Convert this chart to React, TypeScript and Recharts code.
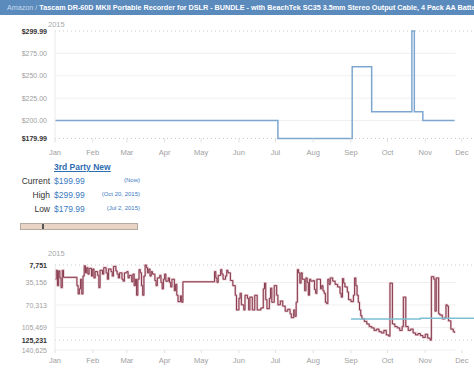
import { LineChart, Line, XAxis, YAxis, ReferenceLine } from 'recharts';

const FONT = '"Liberation Sans", Arial, sans-serif';

const months = ['Jan', 'Feb', 'Mar', 'Apr', 'May', 'Jun', 'Jul', 'Aug', 'Sep', 'Oct', 'Nov', 'Dec'];
const monthStarts = [0, 31, 59, 90, 120, 151, 181, 212, 243, 273, 304, 334];

// 3rd party new price (day of year -> price), step after
const priceDays = [0, 183, 244, 260, 293, 295, 302, 328];
const priceValues = [199.99, 179.99, 259.99, 209.99, 299.99, 209.99, 199.99, 199.99];
const priceTicks = [179.99, 200, 225, 250, 275, 299.99];
const priceGrid = [200, 225, 250, 275];
const priceExtremes = [179.99, 299.99];

// sales rank (day of year -> rank)
const rankDays = [
  0, 1, 2, 3, 4, 5, 6, 7, 18, 19,
  20, 21, 22, 23, 24, 25, 26, 27, 28, 30,
  31, 32, 33, 35, 36, 37, 39, 40, 42, 43,
  44, 46, 47, 48, 50, 51, 52, 53, 55, 56,
  57, 59, 60, 61, 63, 64, 65, 66, 67, 68,
  69, 70, 71, 72, 73, 74, 75, 76, 77, 78,
  79, 80, 82, 83, 84, 86, 87, 88, 89, 90,
  91, 93, 94, 95, 96, 98, 99, 100, 101, 103,
  104, 105, 131, 132, 133, 134, 136, 137, 138, 140,
  141, 142, 144, 146, 148, 149, 151, 152, 153, 155,
  156, 158, 159, 160, 162, 164, 166, 169, 171, 172,
  173, 174, 176, 177, 178, 180, 182, 183, 185, 187,
  189, 191, 193, 194, 196, 197, 198, 199, 200, 201,
  202, 203, 205, 206, 207, 208, 209, 210, 212, 213,
  214, 215, 218, 219, 220, 221, 222, 223, 224, 225,
  226, 228, 230, 232, 234, 235, 236, 237, 238, 240,
  241, 243, 245, 246, 247, 248, 249, 250, 251, 252,
  254, 256, 258, 260, 262, 264, 266, 268, 270, 272,
  274, 275, 277, 279, 281, 283, 285, 286, 288, 290,
  292, 294, 296, 298, 300, 302, 304, 306, 308, 309,
  311, 312, 313, 315, 316, 318, 320, 321, 322, 323,
  325, 327, 328,
];
const rankValues = [
  30000, 16000, 40000, 17000, 28000, 43000, 16000, 27000, 40000, 53000,
  45000, 30000, 53000, 25000, 9000, 20000, 12000, 22000, 13000, 25000,
  14000, 28000, 18000, 24000, 43000, 16000, 22000, 12000, 20000, 30000,
  14000, 18000, 25000, 10000, 17000, 22000, 28000, 20000, 30000, 33000,
  20000, 18000, 28000, 24000, 34000, 22000, 40000, 30000, 55000, 30000,
  15000, 20000, 40000, 55000, 25000, 7751, 12000, 20000, 14000, 25000,
  18000, 22000, 32000, 40000, 28000, 24000, 35000, 45000, 30000, 22000,
  33000, 28000, 35000, 42000, 30000, 48000, 38000, 55000, 65000, 56000,
  66000, 34000, 18000, 28000, 35000, 24000, 15000, 22000, 30000, 25000,
  16000, 20000, 32000, 40000, 55000, 78000, 60000, 52000, 70000, 78000,
  55000, 60000, 78000, 58000, 78000, 55000, 78000, 75000, 45000, 36000,
  62000, 76000, 60000, 44000, 66000, 40000, 55000, 70000, 64000, 72000,
  80000, 77000, 84000, 90000, 78000, 88000, 66000, 15000, 20000, 36000,
  20000, 30000, 48000, 28000, 35000, 55000, 30000, 33000, 32000, 46000,
  52000, 30000, 45000, 40000, 48000, 52000, 66000, 68000, 30000, 38000,
  28000, 33000, 38000, 42000, 52000, 58000, 29000, 36000, 42000, 50000,
  62000, 65000, 55000, 28000, 40000, 55000, 66000, 78000, 87000, 92000,
  96000, 100000, 104000, 106000, 110000, 108000, 112000, 114000, 110000, 117000,
  119000, 36000, 100000, 104000, 106000, 110000, 104000, 58000, 104000, 110000,
  108000, 114000, 117000, 115000, 118000, 121000, 116000, 122000, 125231, 26000,
  30000, 80000, 28000, 84000, 86000, 92000, 90000, 70000, 72000, 95000,
  108000, 112000, 114000,
];
const rankTicks = [7751, 35156, 70313, 105469, 125231, 140625];
const rankGrid = [35156, 70313, 105469, 140625];
const rankExtremes = [7751, 125231];

// teal overlay in the rank panel
const overlayDays = [243, 300, 344];
const overlayValues = [92200, 90800, 90800];

const summaryLabels = ['Current', 'High', 'Low'];
const summaryPrices = [199.99, 299.99, 179.99];
const summaryDates = ['(Now)', '(Oct 20, 2015)', '(Jul 2, 2015)'];

const priceData = priceDays.map((day, i) => ({ day, price: priceValues[i] }));
const rankData = rankDays.map((day, i) => ({ day, rank: rankValues[i] }));
const overlayData = overlayDays.map((day, i) => ({ day, rank: overlayValues[i] }));

const makeMonthTick = (dy: number) => (props: any) => {
  const { x, y, payload } = props;
  return (
    <text x={x} y={y} dy={dy} textAnchor="middle" fontSize={7.5} fill="#a0a0a0" fontFamily={FONT}>
      {months[monthStarts.indexOf(payload.value)]}
    </text>
  );
};

const makeYTick = (extremes: number[], fmt: (v: number) => string) => (props: any) => {
  const { x, y, payload } = props;
  const bold = extremes.includes(payload.value);
  return (
    <text
      x={x}
      y={y}
      dy={2.5}
      textAnchor="end"
      fontSize={7}
      fontWeight={bold ? 700 : 400}
      fill={bold ? '#333' : '#a0a0a0'}
      fontFamily={FONT}
    >
      {fmt(payload.value)}
    </text>
  );
};

const PriceTick = makeYTick(priceExtremes, (v) => `$${v.toFixed(2)}`);
const RankTick = makeYTick(rankExtremes, (v) => v.toLocaleString('en-US'));

const yearLabel = (top: number) => (
  <div style={{ position: 'absolute', left: 48, top, fontSize: 7.5, color: '#a8a8a8', fontFamily: FONT }}>2015</div>
);

export default function App() {
  return (
    <div style={{ position: 'absolute', left: 0, top: 0, width: 474, height: 373, background: '#fff', overflow: 'hidden', fontFamily: FONT }}>
      <div
        style={{
          position: 'absolute', left: 0, top: 0, width: 474, height: 15, background: '#5b8abd',
          color: '#fff', fontSize: 7.2, lineHeight: '15px', paddingLeft: 7, whiteSpace: 'nowrap', overflow: 'hidden', boxSizing: 'border-box',
        }}
      >
        <span style={{ color: '#c9dcee' }}>Amazon / </span>
        <b>Tascam DR-60D MKII Portable Recorder for DSLR - BUNDLE - with BeachTek SC35 3.5mm Stereo Output Cable, 4 Pack AA Batteries</b>
      </div>

      {yearLabel(20)}
      <div style={{ position: 'absolute', left: 0, top: 0 }}>
        <LineChart width={474} height={160} data={priceData} margin={{ top: 31, right: 0, bottom: 1.5, left: 0 }}>
          <XAxis
            dataKey="day" type="number" domain={[0, 344]} ticks={monthStarts} tick={makeMonthTick(10)}
            axisLine={false} tickLine={{ stroke: '#e0e0e0' }} tickSize={4} height={20} interval={0}
          />
          <YAxis
            type="number" domain={[179.99, 299.99]} ticks={priceTicks} tick={PriceTick} interval={0}
            width={55} tickSize={0} tickMargin={8} tickLine={false} axisLine={{ stroke: '#eaeaea' }}
          />
          {priceGrid.map((v) => (
            <ReferenceLine key={v} segment={[{ x: 0, y: v }, { x: 329, y: v }]} stroke="#efefef" />
          ))}
          {priceExtremes.map((v) => (
            <ReferenceLine key={v} y={v} stroke="#c8c8c8" strokeDasharray="1 3" />
          ))}
          <Line type="stepAfter" dataKey="price" stroke="#7ea7cf" strokeWidth={1.5} dot={false} isAnimationActive={false} />
        </LineChart>
      </div>

      <div style={{ position: 'absolute', left: 54, top: 162, fontSize: 8.5, fontWeight: 700, color: '#2f6db3', textDecoration: 'underline' }}>
        3rd Party New
      </div>
      {summaryLabels.map((label, i) => (
        <div key={label} style={{ position: 'absolute', left: 0, top: 176 + i * 14, width: 145, height: 11 }}>
          <div style={{ position: 'absolute', left: 0, width: 50, textAlign: 'right', fontSize: 8.5, color: '#333' }}>{label}</div>
          <div style={{ position: 'absolute', left: 54, fontSize: 8.5, color: '#3b7bc2' }}>${summaryPrices[i].toFixed(2)}</div>
          <div style={{ position: 'absolute', left: 90, width: 50, textAlign: 'right', top: 1, fontSize: 6, color: '#3b7bc2' }}>{summaryDates[i]}</div>
        </div>
      ))}

      <div style={{ position: 'absolute', left: 20, top: 223, width: 118, height: 7, background: '#e7d4c4', border: '1px solid #b5aaa0', boxSizing: 'border-box' }}>
        <div style={{ position: 'absolute', left: 21, top: 0, width: 2, height: 5, background: '#555' }} />
      </div>

      {yearLabel(249)}
      <div style={{ position: 'absolute', left: 0, top: 240 }}>
        <LineChart width={474} height={133} data={rankData} margin={{ top: 25, right: 0, bottom: 3, left: 0 }}>
          <XAxis
            dataKey="day" type="number" domain={[0, 344]} ticks={monthStarts} tick={makeMonthTick(8)}
            axisLine={false} tickLine={{ stroke: '#e0e0e0' }} tickSize={3} height={20} interval={0}
          />
          <YAxis
            type="number" reversed domain={[7751, 140625]} ticks={rankTicks} tick={RankTick} interval={0}
            width={55} tickSize={0} tickMargin={8} tickLine={false} axisLine={{ stroke: '#eaeaea' }}
          />
          {rankGrid.map((v) => (
            <ReferenceLine key={v} segment={[{ x: 0, y: v }, { x: 329, y: v }]} stroke="#efefef" />
          ))}
          {rankExtremes.map((v) => (
            <ReferenceLine key={v} y={v} stroke="#c8c8c8" strokeDasharray="1 3" />
          ))}
          <Line type="stepAfter" dataKey="rank" stroke="#e4c4cc" strokeWidth={2.2} dot={false} isAnimationActive={false} />
          <Line type="stepAfter" dataKey="rank" stroke="#86394c" strokeWidth={1} dot={false} isAnimationActive={false} />
          <Line data={overlayData} type="stepAfter" dataKey="rank" stroke="#7cc0d2" strokeWidth={1.5} dot={false} isAnimationActive={false} />
        </LineChart>
      </div>
    </div>
  );
}
